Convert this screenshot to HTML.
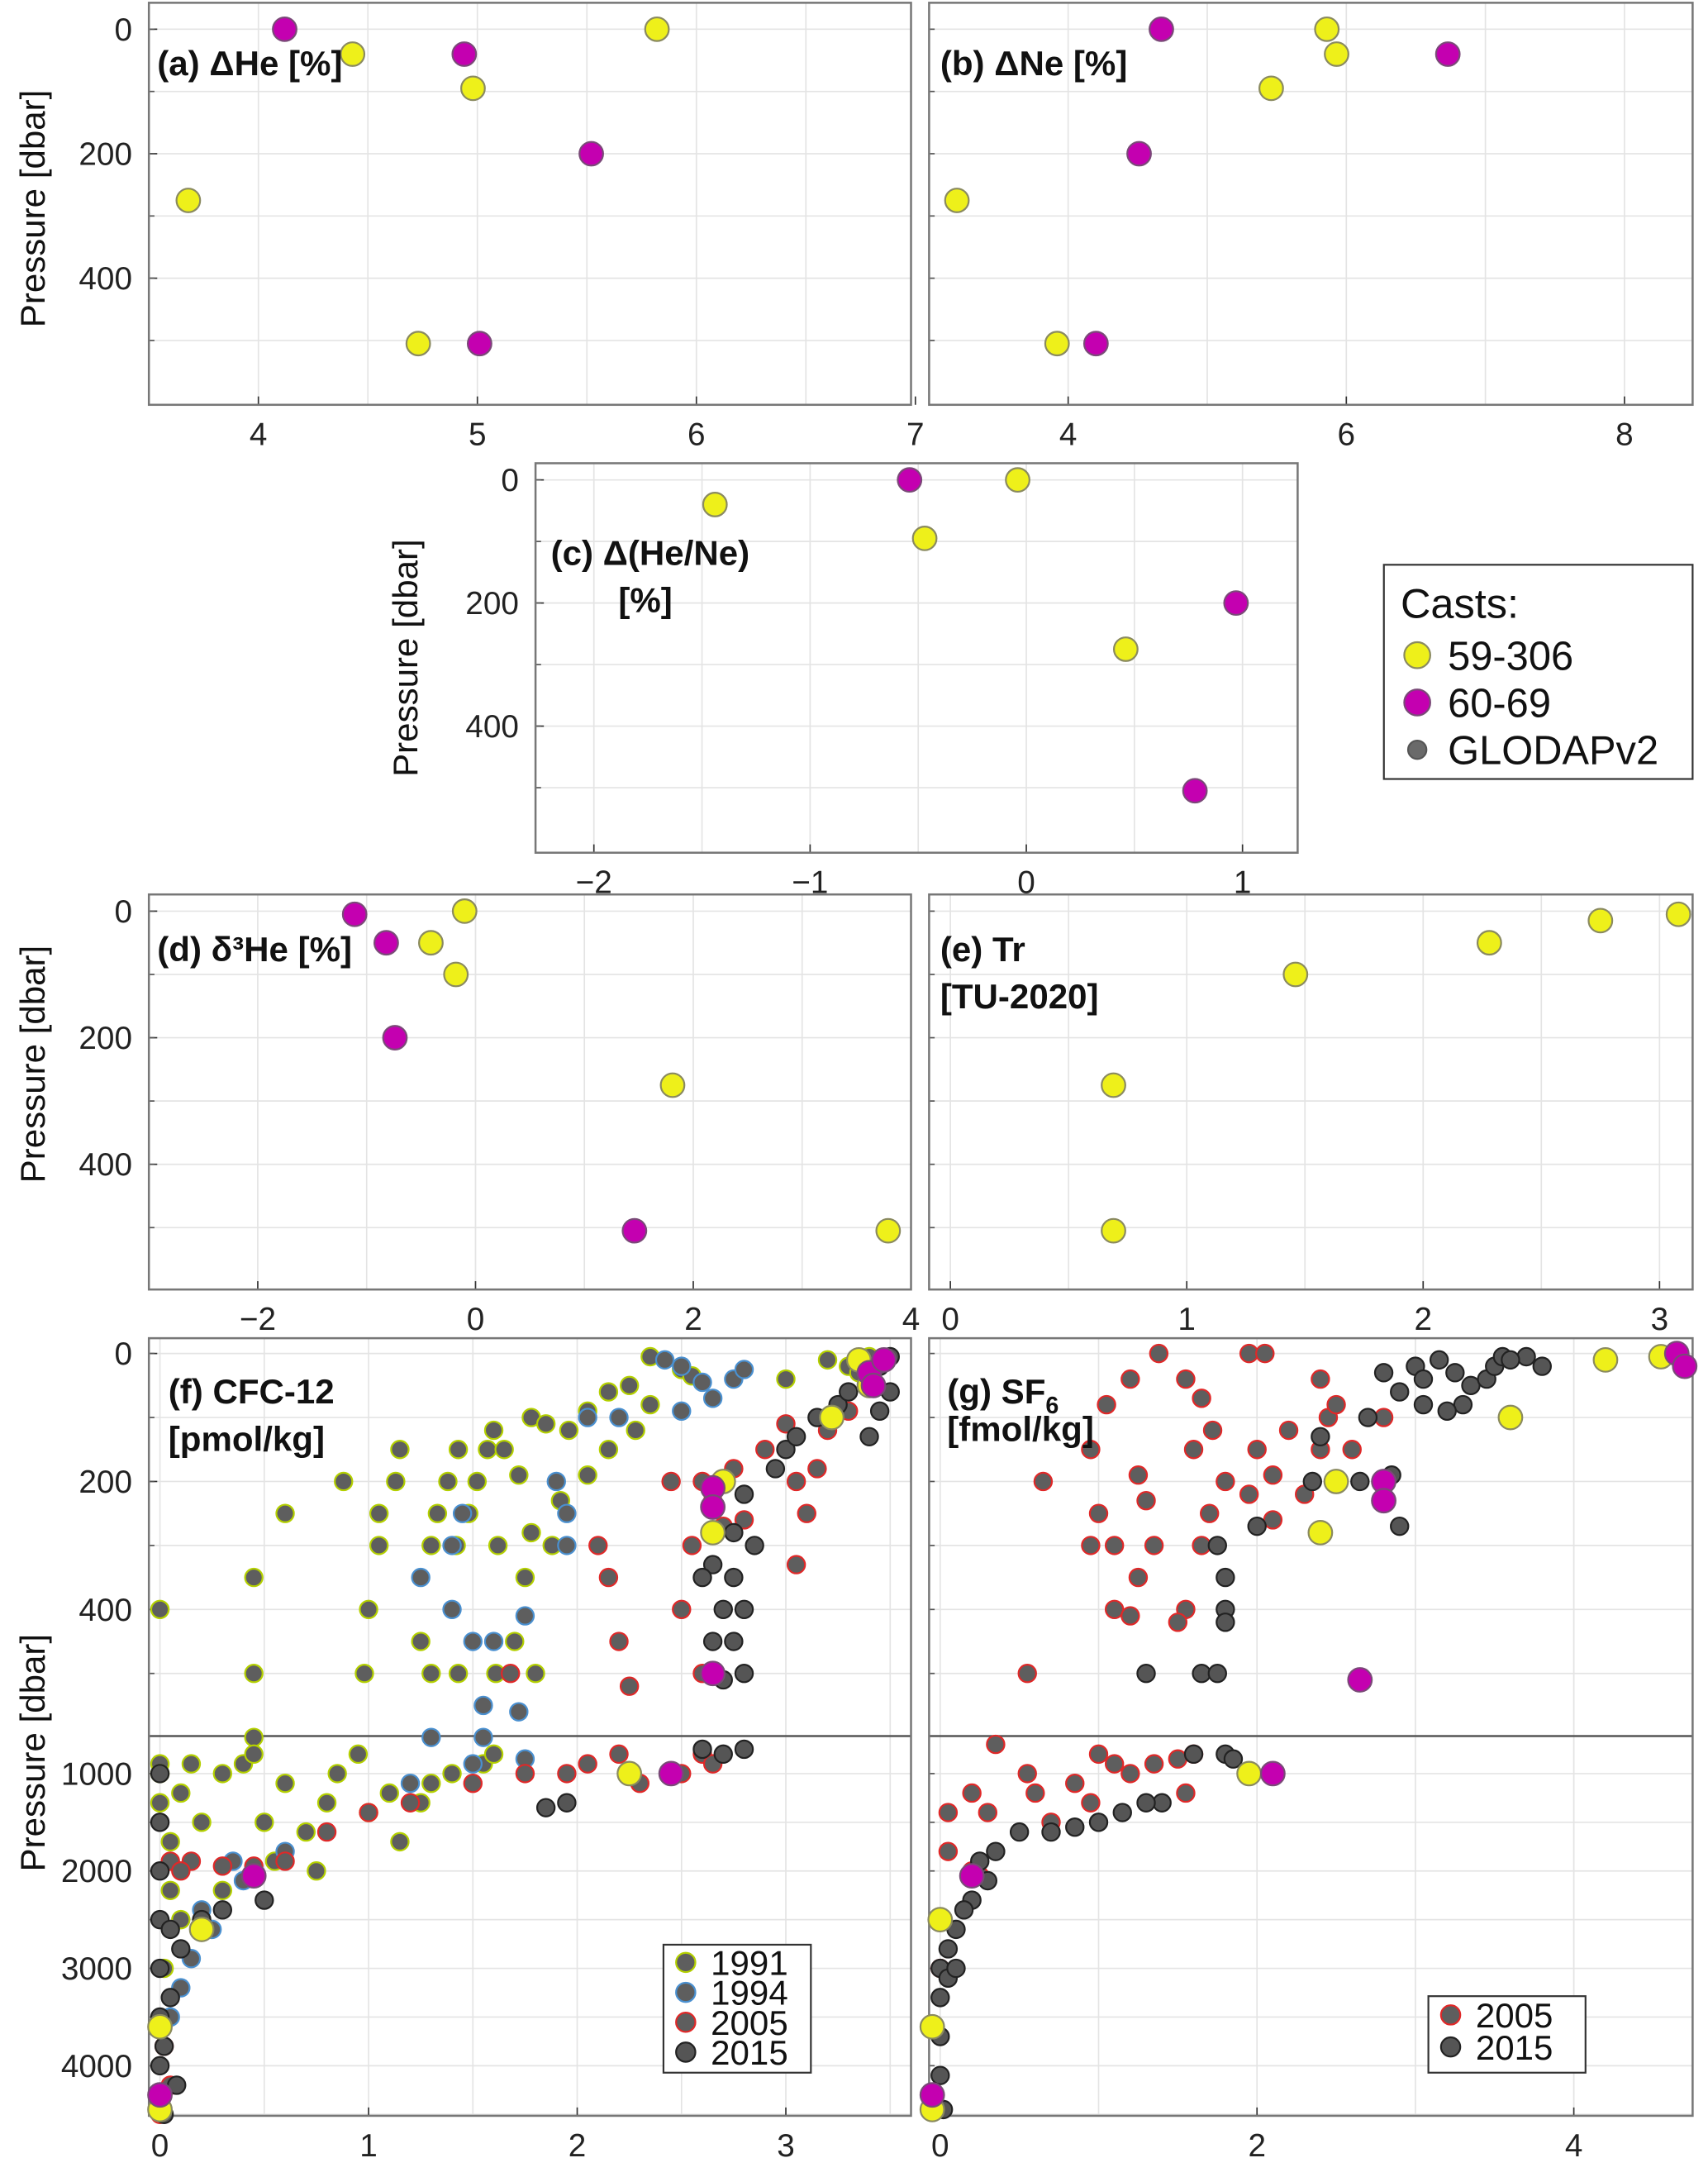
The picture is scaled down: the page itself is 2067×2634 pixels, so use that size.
<!DOCTYPE html>
<html><head><meta charset="utf-8"><title>Noble gas and transient tracer profiles</title>
<style>
html,body{margin:0;padding:0;background:#fff;}
svg{display:block;font-family:"Liberation Sans",sans-serif;}
.tick{font-size:23px;fill:#222;}
.ttl{font-size:25px;font-weight:bold;fill:#111;}
.ylab{font-size:25px;fill:#111;}
</style></head>
<body>
<svg id="fig" xmlns="http://www.w3.org/2000/svg" width="2067" height="2634" viewBox="0 0 1228 1565">
<rect x="0" y="0" width="1228" height="1565" fill="#fff"/>
<g id="layer"></g>
</svg>
<script>
// ===== Panel (a) ΔHe =====
const aYellowX=[5.82,4.43,4.98,3.68,4.73];
const aYellowP=[0,40,95,275,505];
const aMagX=[4.12,4.94,5.52,5.01];
const aMagP=[0,40,200,505];
const aTicks=[4,5,6,7];
// ===== Panel (b) ΔNe =====
const bYellowX=[5.86,5.93,5.46,3.2,3.92];
const bYellowP=[0,40,95,275,505];
const bMagX=[4.67,6.73,4.51,4.2];
const bMagP=[0,40,200,505];
const bTicks=[4,6,8];
// ===== Panel (c) Δ(He/Ne) =====
const cYellowX=[-1.44,-0.47,-0.04,0.46];
const cYellowP=[40,95,0,275];
const cMagX=[-0.54,0.97,0.78];
const cMagP=[0,200,505];
const cTicks=[-2,-1,0,1];
// ===== Panel (d) δ3He =====
const dYellowX=[-0.1,-0.41,-0.18,1.81,3.79];
const dYellowP=[0,50,100,275,505];
const dMagX=[-1.11,-0.82,-0.74,1.46];
const dMagP=[5,50,200,505];
const dTicks=[-2,0,2,4];
// ===== Panel (e) Tr =====
const eYellowX=[3.08,2.75,2.28,1.46,0.69,0.69];
const eYellowP=[5,15,50,100,275,505];
const eTicks=[0,1,2,3];
const pTicksTop=[0,200,400];
// ===== Panel (f) CFC-12 =====
const f1991X=[0,0.45,0.6,0.45,0.45,0.88,1.0,0.98,1.05,1.05,1.13,1.15,1.3,1.33,1.38,1.43,1.42,1.48,1.52,1.57,1.6,1.62,1.75,1.25,1.3,1.43,1.61,1.7,1.8,1.78,1.85,1.96,2.05,2.15,2.25,2.35,2.5,2.55,2.35,2.28,2.15,2.05,1.92,1.88,1.78,1.72,1.65,3.0,3.2,3.3,3.4,3.35,
 0,0,0,0.05,0.1,0.15,0.2,0.3,0.4,0.45,0.5,0.6,0.7,0.75,0.8,0.85,0.95,1.0,1.1,1.15,1.25,1.3,1.4,1.55,1.6,0.1,0.05,0.02,0.3,0.45,0.55];
const f1991P=[400,350,250,500,600,200,400,500,300,250,200,150,300,250,200,150,300,250,200,150,120,300,350,450,500,500,500,450,500,100,110,120,90,60,50,5,25,35,80,120,150,190,230,300,280,190,150,40,10,20,5,30,
 900,1000,1300,1700,1200,900,1500,1000,900,800,1500,1100,1600,2000,1300,1000,800,1400,1200,1700,1300,1100,1000,900,800,2500,2200,3000,2200,2000,1900];
const f1994X=[1.25,1.45,1.5,1.4,1.75,1.55,1.55,1.95,1.95,1.9,2.05,2.2,2.42,2.5,2.6,2.75,2.8,2.65,2.5,1.72,1.6,1.4,1.3,1.5,1.75,1.2,0.35,0.2,0.15,0.05,0.1,0.25,0.4,0.6];
const f1994P=[350,250,450,400,410,550,600,300,250,200,100,100,10,20,45,40,25,70,90,560,450,300,600,900,850,1100,1900,2400,2900,3500,3200,2600,2100,1800];
const f2005X=[1.68,2.1,2.15,2.2,2.25,2.45,2.6,2.55,2.5,2.6,2.7,2.8,2.9,3.0,3.05,3.1,3.05,3.15,3.2,3.3,2.75,2.65,
 1.5,1.75,1.95,2.05,2.2,2.3,2.5,2.6,2.65,0.05,0.15,0.3,0.45,0.6,0.8,1.0,1.2,0.0,0.05,0.02,0.1];
const f2005P=[500,300,350,450,520,200,200,300,400,500,270,260,150,110,200,250,330,180,120,90,180,230,
 1100,1000,1000,900,800,1100,1000,800,900,1900,1900,1950,1950,1900,1600,1400,1300,4500,4200,3800,2000];
const f2015X=[2.65,2.7,2.75,2.8,2.7,2.8,2.75,2.85,2.8,2.95,3.0,3.05,3.15,3.25,3.3,3.4,3.45,3.5,3.4,3.45,3.5,2.6,2.65,2.75,
 1.85,1.95,2.6,2.7,2.8,0,0,0,0,0,0,0,0.02,0.05,0.1,0.2,0.3,0.5,0.05,0.02,0.08];
const f2015P=[330,400,350,400,510,500,280,300,220,180,150,130,100,80,60,40,20,5,130,90,60,350,450,450,
 1350,1300,750,800,750,1000,1500,2000,2500,3000,3500,4000,4500,3300,2800,2500,2400,2300,2600,3800,4200];
const fYellowX=[3.35,3.4,3.22,2.7,2.65,2.25,0.2,0,0];
const fYellowP=[10,50,100,200,280,1000,2600,3600,4450];
const fMagX=[3.4,3.47,3.42,2.65,2.65,2.65,2.45,0.45,0];
const fMagP=[30,10,50,210,240,500,1000,2050,4300];
const fTicks=[0,1,2,3];
const pTicksLow=[1000,2000,3000,4000];
// ===== Panel (g) SF6 =====
const g2005X=[0.65,0.95,1.05,1.2,1.38,1.55,1.65,1.72,1.6,1.95,2.05,2.0,1.8,1.7,1.65,1.55,1.5,1.35,1.25,1.1,1.0,0.95,1.1,1.2,1.25,1.3,1.95,2.1,2.3,2.4,2.45,2.5,2.5,2.8,2.6,2.4,2.1,2.2,0.55,
 0.35,0.55,0.6,0.7,0.85,0.95,1.1,1.2,1.35,1.5,1.55,1.6,0.3,0.05,0.05,0.2,0.25,0.0,0.2,1.0];
const g2005P=[200,150,80,40,0,40,70,120,150,0,0,150,200,250,300,400,420,300,350,300,250,300,400,410,190,230,220,190,220,150,100,80,200,100,150,40,260,120,500,
 700,1000,1200,1500,1100,1300,900,1000,900,850,1200,800,1400,1400,1800,2000,2050,3000,1200,800];
const g2015X=[2.0,2.35,2.4,2.7,2.65,2.85,2.9,2.9,3.0,3.05,3.15,3.25,3.35,3.45,3.5,3.55,3.7,3.8,3.3,3.2,3.05,2.8,3.6,1.75,1.8,1.8,1.8,1.65,1.75,1.3,
 1.6,1.8,1.85,1.4,1.3,1.15,1.0,0.85,0.7,0.5,0.35,0.25,0.3,0.2,0.1,0.05,0.0,0.05,0.0,0.0,0,0.02,0.1,0.15];
const g2015P=[270,200,130,100,200,190,270,60,20,40,10,30,50,40,20,5,5,20,80,90,80,30,10,300,350,400,420,500,500,500,
 800,800,850,1300,1300,1400,1500,1550,1600,1600,1800,1900,2100,2300,2600,2800,3000,3100,3300,3700,4100,4450,3000,2400];
const gYellowX=[4.2,4.55,3.6,2.5,2.4,1.95,0,-0.05,-0.05];
const gYellowP=[10,5,100,200,280,1000,2500,3600,4450];
const gMagX=[4.65,4.7,2.8,2.8,2.65,2.1,0.2,-0.05];
const gMagP=[0,20,200,230,510,1000,2050,4300];
const gTicks=[0,2,4];

const NS="http://www.w3.org/2000/svg";
const layer=document.getElementById('layer');
function mk(tag,attrs,parent){const e=document.createElementNS(NS,tag);for(const k in attrs)e.setAttribute(k,attrs[k]);(parent||layer).appendChild(e);return e;}

const YEL={fill:'#eef01a',stroke:'#8a8a60',r:8.5};
const MAG={fill:'#c400b0',stroke:'#7a4a78',r:8.5};
const C1991={fill:'#5e5e5e',stroke:'#b4d000',r:6.3};
const C1994={fill:'#5e5e5e',stroke:'#4a90d0',r:6.3};
const C2005={fill:'#5e5e5e',stroke:'#e02828',r:6.3};
const C2015={fill:'#555',stroke:'#222',r:6.3};

function topY(y0,k){return p=>y0+p*k;}
function lowY(p){return p<=600?973+p*0.46:Math.max(1248,1275+(p-1000)*0.07);}

function makePanel(name,box,xmin,xmax,ymap,xTicks,xGrid,yTicks,yGrid,split){
  const g=mk('g',{});
  
  
  const sx=v=>box.x0+(v-xmin)/(xmax-xmin)*(box.x1-box.x0);
  mk('rect',{x:box.x0,y:box.y0,width:box.x1-box.x0,height:box.y1-box.y0,fill:'#fff'},g);
  const gg=mk('g',{},g);
  
  
  xGrid.forEach(v=>{const x=sx(v);if(x>box.x0&&x<box.x1)mk('line',{x1:x,x2:x,y1:box.y0,y2:box.y1,stroke:'#e4e4e4','stroke-width':1},gg);});
  yGrid.forEach(p=>{const y=ymap(p);if(y>box.y0&&y<box.y1)mk('line',{x1:box.x0,x2:box.x1,y1:y,y2:y,stroke:'#e4e4e4','stroke-width':1},gg);});
  xTicks.forEach(v=>{const x=sx(v);
    mk('line',{x1:x,x2:x,y1:box.y1,y2:box.y1-6,stroke:'#333','stroke-width':1},g);
    const t=mk('text',{x:x,y:box.y1+29,'text-anchor':'middle',class:'tick'},g);t.textContent=String(v).replace('-','−');
    
    
  });
  yTicks.forEach(p=>{const y=ymap(p);
    mk('line',{x1:box.x0,x2:box.x0+6,y1:y,y2:y,stroke:'#333','stroke-width':1},g);
    const t=mk('text',{x:box.x0-12,y:y+8,'text-anchor':'end',class:'tick'},g);t.textContent=p;
    
    
  });
  yGrid.forEach(p=>{const y=ymap(p);if(y>box.y0&&y<box.y1)mk('line',{x1:box.x0,x2:box.x0+4,y1:y,y2:y,stroke:'#555','stroke-width':1},g);});
  if(split){mk('line',{x1:box.x0,x2:box.x1,y1:1248,y2:1248,stroke:'#555','stroke-width':1.5},g);}
  mk('rect',{x:box.x0,y:box.y0,width:box.x1-box.x0,height:box.y1-box.y0,fill:'none',stroke:'#777','stroke-width':1.5},g);
  const clipId='clip'+name;
  const cp=mk('clipPath',{id:clipId},g);mk('rect',{x:box.x0-9,y:box.y0-9,width:box.x1-box.x0+18,height:box.y1-box.y0+18},cp);
  const pts=mk('g',{'clip-path':'url(#'+clipId+')'},g);
  return {g,pts,sx,ymap};
}
function series(P,xs,ps,st,label){
  const sg=mk('g',{},P.pts);
  
  
  for(let i=0;i<xs.length;i++){
    const c=mk('circle',{cx:P.sx(xs[i]),cy:P.ymap(ps[i]),r:st.r,fill:st.fill,stroke:st.stroke,'stroke-width':1.3},sg);
    
    
  }
}
function title(x,y,lines,P){
  lines.forEach((l,i)=>{const t=mk('text',{x:x,y:y+i*34,class:'ttl'},P.g);t.innerHTML=l;
    
    });
}
function ylabel(x,y){const t=mk('text',{x:x,y:y,class:'ylab','text-anchor':'middle',transform:'rotate(-90 '+x+' '+y+')'});t.textContent='Pressure [dbar]';
  
  }
const gridTop=[0,100,200,300,400,500];
function half(a,b){const r=[];for(let v=a;v<=b+1e-9;v+=0.5)r.push(+v.toFixed(2));return r;}

// (a)
let P=makePanel('panel-a',{x0:107,x1:655,y0:2,y1:291},3.5,6.98,topY(21,0.4475),aTicks,half(3.5,7),pTicksTop,gridTop);
series(P,aYellowX,aYellowP,YEL,'series-59-306');series(P,aMagX,aMagP,MAG,'series-60-69');
title(113,54,['(a) ΔHe [%]'],P);
ylabel(32,150);
// (b)
P=makePanel('panel-b',{x0:668,x1:1217,y0:2,y1:291},3,8.49,topY(21,0.4475),bTicks,[3,4,5,6,7,8],[],gridTop);
series(P,bYellowX,bYellowP,YEL,'series-59-306');series(P,bMagX,bMagP,MAG,'series-60-69');
title(676,54,['(b) ΔNe [%]'],P);
// (c)
P=makePanel('panel-c',{x0:385,x1:933,y0:333,y1:613},-2.27,1.255,topY(345,0.4425),cTicks,half(-2,1),pTicksTop,gridTop);
series(P,cYellowX,cYellowP,YEL,'series-59-306');series(P,cMagX,cMagP,MAG,'series-60-69');
title(396,406,['(c) Δ(He/Ne)','&#160;&#160;&#160;&#160;&#160;&#160;&#160;[%]'],P);
ylabel(300,473);
// (d)
P=makePanel('panel-d',{x0:107,x1:655,y0:643,y1:927},-3,4,topY(655,0.455),dTicks,[-3,-2,-1,0,1,2,3,4],pTicksTop,gridTop);
series(P,dYellowX,dYellowP,YEL,'series-59-306');series(P,dMagX,dMagP,MAG,'series-60-69');
title(113,691,['(d) δ³He [%]'],P);
ylabel(32,765);
// (e)
P=makePanel('panel-e',{x0:668,x1:1217,y0:643,y1:927},-0.09,3.14,topY(655,0.455),eTicks,half(0,3),[],gridTop);
series(P,eYellowX,eYellowP,YEL,'series-59-306');
title(676,691,['(e) Tr','[TU-2020]'],P);
// (f)
const lowGrid=[0,100,200,300,400,500,1000,1500,2000,2500,3000,3500,4000,4500];
P=makePanel('panel-f',{x0:107,x1:655,y0:962,y1:1521},-0.053,3.6,lowY,fTicks,half(0,3.5),pTicksTop.concat(pTicksLow),lowGrid,true);
series(P,f1991X,f1991P,C1991,'series-1991');series(P,f1994X,f1994P,C1994,'series-1994');
series(P,f2005X,f2005P,C2005,'series-2005');series(P,f2015X,f2015P,C2015,'series-2015');
series(P,fYellowX,fYellowP,YEL,'series-59-306');series(P,fMagX,fMagP,MAG,'series-60-69');
title(121,1009,['(f) CFC-12','[pmol/kg]'],P);
ylabel(32,1260);
// (g)
P=makePanel('panel-g',{x0:668,x1:1217,y0:962,y1:1521},-0.07,4.75,lowY,gTicks,[0,1,2,3,4],[],lowGrid,true);
series(P,g2005X,g2005P,C2005,'series-2005');series(P,g2015X,g2015P,C2015,'series-2015');
series(P,gYellowX,gYellowP,YEL,'series-59-306');series(P,gMagX,gMagP,MAG,'series-60-69');
title(681,1009,['(g) SF<tspan font-size="17" dy="7">6</tspan>','<tspan dy="-7">[fmol/kg]</tspan>'],P);

// legends
function legend(name,x,y,w,h,items,fs,rowH,head){
  const g=mk('g',{});
  
  
  mk('rect',{x:x,y:y,width:w,height:h,fill:'#fff',stroke:'#333','stroke-width':1.3},g);
  let yy=y;
  if(head){const t=mk('text',{x:x+12,y:y+38,'font-size':30,fill:'#111'},g);t.textContent=head;yy+=48;}
  items.forEach((it,i)=>{
    const cy=yy+rowH*(i+0.5)+ (head?0:2);
    mk('circle',{cx:x+(head?24:16),cy:cy,r:it[1].r*1.1,fill:it[1].fill,stroke:it[1].stroke,'stroke-width':1.3},g);
    const t=mk('text',{x:x+(head?46:34),y:cy+fs*0.36,'font-size':fs,fill:'#111'},g);t.textContent=it[0];
    
    
  });
}
legend('casts-legend',995,406,222,154,[['59-306',YEL],['60-69',MAG],['GLODAPv2',{fill:'#6a6a6a',stroke:'#555',r:6}]],29,34,'Casts:');
legend('year-legend-f',477,1398,106,92,[['1991',C1991],['1994',C1994],['2005',C2005],['2015',C2015]],25,21.5);
legend('year-legend-g',1027,1435,113,55,[['2005',C2005],['2015',C2015]],25,23);
</script>
</body></html>
